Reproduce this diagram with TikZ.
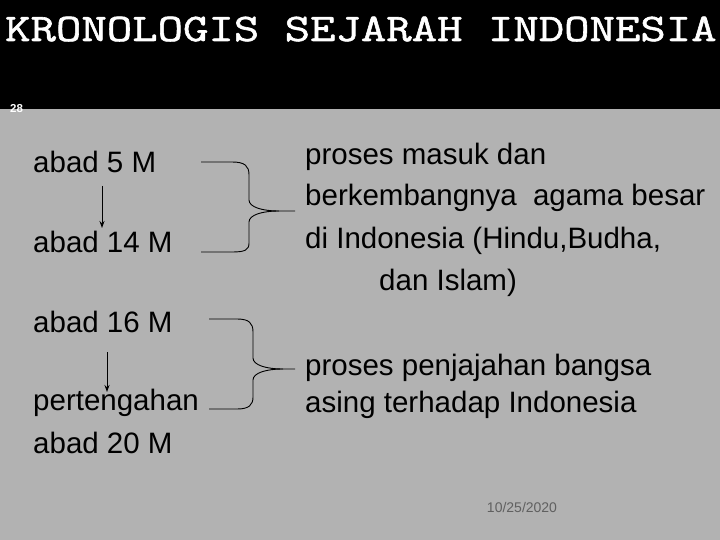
\documentclass[tikz,border=0pt]{standalone}
\usepackage{fontspec}
\setmainfont{Liberation Sans}
\newfontfamily\titlefont[FakeStretch=1.265,FakeBold=1.5]{Latin Modern Mono}
\usetikzlibrary{arrows.meta}
\definecolor{bg}{RGB}{178,178,178}
\definecolor{datecol}{RGB}{96,96,96}
\begin{document}
\begin{tikzpicture}[x=1pt,y=-1pt,
  body/.style={anchor=base west,inner sep=0pt,font=\fontsize{29.5}{34}\selectfont,text=black},
  arr/.style={-{Stealth[length=7pt,width=5pt]},line width=1pt},
  brace/.style={line width=0.9pt,line join=round}]
\useasboundingbox (0,0) rectangle (720,540);
\fill[bg] (0,0) rectangle (720,540);
\fill[black] (0,0) rectangle (720,109);
\node[anchor=base west,inner sep=0pt,text=white,font=\titlefont\fontsize{39}{44}\selectfont] (title) at (5,41) {KRONOLOGIS SEJARAH INDONESIA};
\node[anchor=base west,inner sep=0pt,text=white,font=\bfseries\fontsize{11.5}{12}\selectfont] (num) at (10,113) {28};
% left column
\node[body] (a5) at (33,173) {abad 5 M};
\node[body] (a14) at (33,252) {abad 14 M};
\node[body] (a16) at (33,332) {abad 16 M};
\node[body] (pt) at (33,410) {pertengahan};
\node[body] (a20) at (33,453) {abad 20 M};
% right column
\node[body] (r1) at (305,165) {proses masuk dan};
\node[body] (r2) at (305,206) {berkembangnya\ \ agama besar};
\node[body] (r3) at (305,248) {di Indonesia (Hindu,Budha,};
\node[body] (r4) at (379,290) {dan Islam)};
\node[body] (s1) at (305,375) {proses penjajahan bangsa};
\node[body] (s2) at (305,412) {asing terhadap Indonesia};
% arrows
\draw[arr] ([xshift=69pt,yshift=-13pt]a5.base west) -- ([xshift=69pt,yshift=24pt]a14.base west);
\draw[arr] ([xshift=74pt,yshift=-20pt]a16.base west) -- ([xshift=74pt,yshift=18pt]pt.base west);
% braces
\coordinate (b1t) at (201,162);
\coordinate (b1b) at (201,252);
\coordinate (b1c) at (279,211);
\coordinate (b1e) at (295,211);
\draw[brace] (b1t) -- (232,162) .. controls (245,162) and (249,166) .. (249,175) -- (249,200)
  .. controls (249,207) and (262,211) .. (b1c) -- (b1e);
\draw[brace] (b1c) .. controls (262,211) and (249,215) .. (249,222) -- (249,243)
  .. controls (249,250) and (245,252) .. (232,252) -- (b1b);
\coordinate (b2t) at (209,319);
\coordinate (b2b) at (209,409);
\coordinate (b2c) at (283,369);
\coordinate (b2e) at (295,369);
\draw[brace] (b2t) -- (237,319) .. controls (249,319) and (253,323) .. (253,332) -- (253,358)
  .. controls (253,365) and (266,369) .. (b2c) -- (b2e);
\draw[brace] (b2c) .. controls (266,369) and (253,373) .. (253,380) -- (253,397)
  .. controls (253,405) and (249,409) .. (237,409) -- (b2b);
% date
\node[anchor=base,inner sep=0pt,text=datecol,font=\fontsize{14}{16}\selectfont] (date) at (522,512) {10/25/2020};
\end{tikzpicture}
\end{document}
